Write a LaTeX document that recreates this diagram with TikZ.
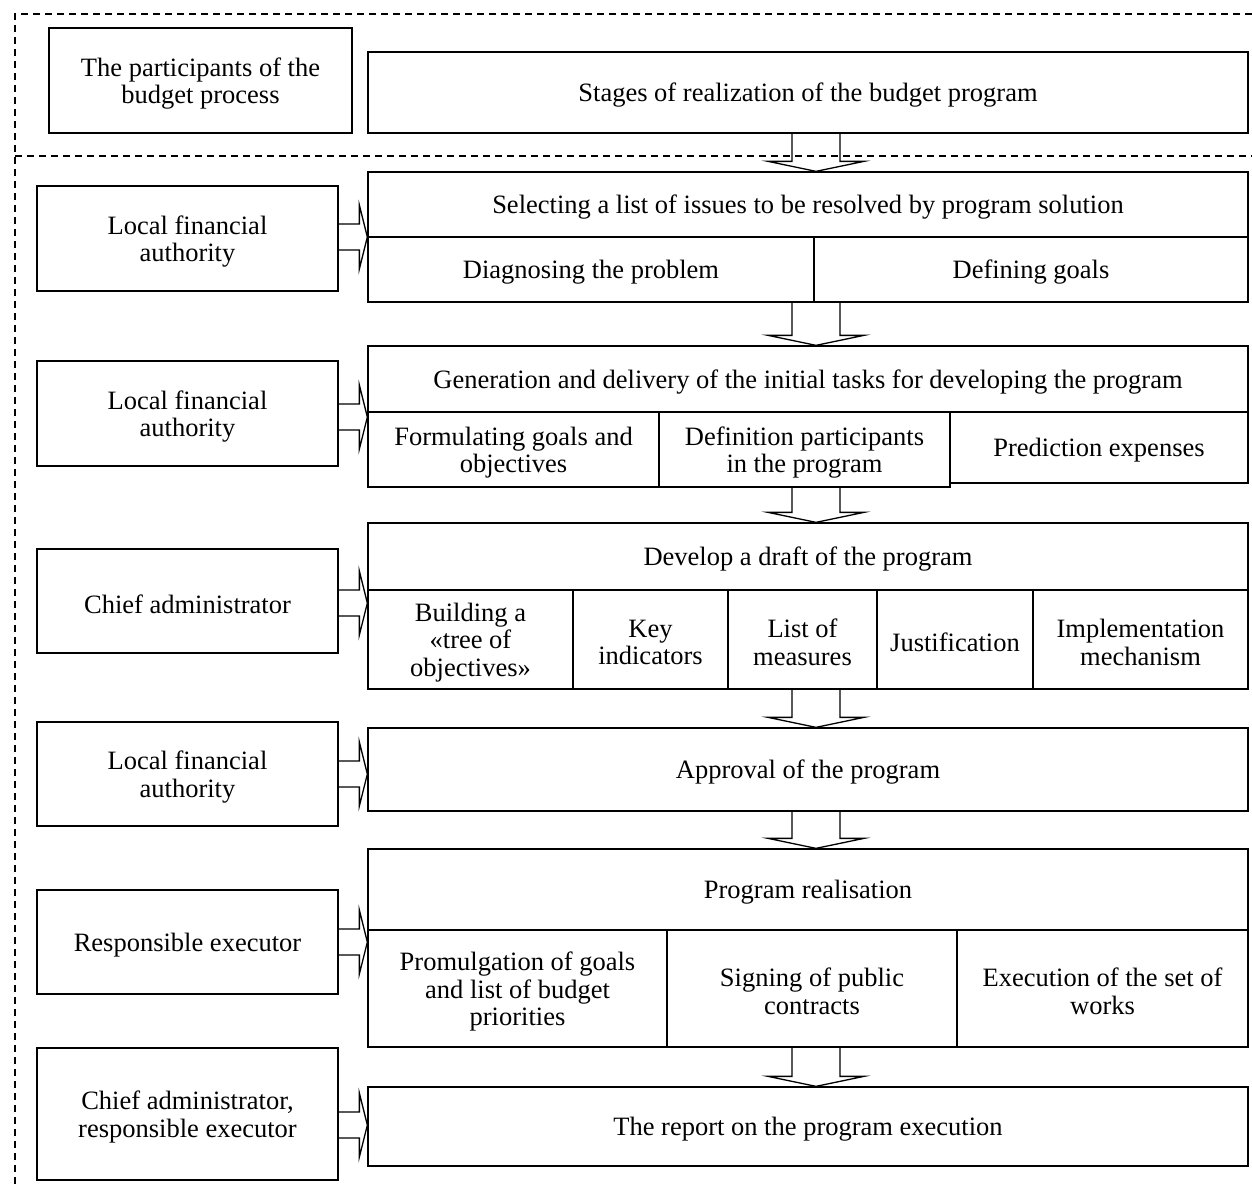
\documentclass[tikz,border=0pt]{standalone}
\usepackage{fontspec}
\setmainfont{Liberation Serif}
\usetikzlibrary{calc}
\tikzset{
  cellbox/.style={draw, line width=1.3pt, inner sep=0pt},
  celltext/.style={inner sep=0pt, align=center,
    font=\fontsize{26.5}{27.5}\selectfont},
  hollow/.style={draw, line width=1.3pt, line join=miter},
  frameline/.style={line width=1.2pt, dash pattern=on 7pt off 5pt},
}
% cell: name, x1, y1, x2, y2, text (y grows downwards)
\newcommand\cellat[6]{\node[cellbox, minimum width={(#4-#2)*1pt},
  minimum height={(#5-#3)*1pt}] (#1) at ({(#2+#4)/2},{(#3+#5)/2}) {};
  \node[celltext] (#1-t) at ($(#1.center)+(0,3)$) {#6};}
% hollow downward arrow between two stacked blocks, on the axis (ax)
\newcommand\flowdown[2]{\draw[hollow] ($(ax|-#1.south)+(-24,0)$)
  -- ($(ax|-#2.north)+(-24,-10)$) -- ++(-24,0) -- (ax|-#2.north)
  -- ++(48,-10) -- ++(-24,0) -- ($(ax|-#1.south)+(24,0)$);}
% hollow arrow from a participant to its stage, at height #3
\newcommand\flowright[3]{\draw[hollow] ($(#1.east|-#3)+(0,-13)$)
  -- ($(#2.west|-#3)+(-8,-13)$) -- ++(0,-19) -- (#2.west|-#3)
  -- ++(-8,32) -- ++(0,-19) -- ($(#1.east|-#3)+(0,13)$);}
\begin{document}
\begin{tikzpicture}[x=1pt, y=-1pt]
\useasboundingbox (0,0) rectangle (1252,1184);

% dashed frame and header separator
\draw[frameline] (1252,14) -- (15,14) -- (15,1184);
\draw[frameline] (15,156) -- (1252,156);

% header
\cellat{hpart}{49}{28}{352}{133}{The participants of the\\budget process}
\cellat{hstage}{368}{52}{1248}{133}{Stages of realization of the budget program}

% participants
\cellat{p1}{37}{186}{338}{291}{Local financial\\authority}
\cellat{p2}{37}{361}{338}{466}{Local financial\\authority}
\cellat{p3}{37}{549}{338}{653}{Chief administrator}
\cellat{p4}{37}{722}{338}{826}{Local financial\\authority}
\cellat{p5}{37}{890}{338}{994}{Responsible executor}
\cellat{p6}{37}{1048}{338}{1180}{Chief administrator,\\responsible executor}

% stages
\cellat{r1a}{368}{172}{1248}{237}{Selecting a list of issues to be resolved by program solution}
\cellat{r1b}{368}{237}{814}{302}{Diagnosing the problem}
\cellat{r1c}{814}{237}{1248}{302}{Defining goals}

\cellat{r2a}{368}{346}{1248}{412}{Generation and delivery of the initial tasks for developing the program}
\cellat{r2b}{368}{412}{659}{487}{Formulating goals and\\objectives}
\cellat{r2d}{950}{412}{1248}{483}{Prediction expenses}
\cellat{r2c}{659}{412}{950}{487}{Definition participants\\in the program}

\cellat{r3a}{368}{523}{1248}{590}{Develop a draft of the program}
\cellat{r3b}{368}{590}{573}{689}{Building a\\«tree of\\objectives»}
\cellat{r3c}{573}{590}{728}{689}{Key\\indicators}
\cellat{r3d}{728}{590}{877}{689}{List of\\measures}
\cellat{r3e}{877}{590}{1033}{689}{Justification}
\cellat{r3f}{1033}{590}{1248}{689}{Implementation\\mechanism}

\cellat{r4}{368}{728}{1248}{811}{Approval of the program}

\cellat{r5a}{368}{849}{1248}{930}{Program realisation}
\cellat{r5b}{368}{930}{667}{1047}{Promulgation of goals\\and list of budget\\priorities}
\cellat{r5c}{667}{930}{957}{1047}{Signing of public\\contracts}
\cellat{r5d}{957}{930}{1248}{1047}{Execution of the set of\\works}

\cellat{r6}{368}{1087}{1248}{1166}{The report on the program execution}

% arrow axis and arrow heights
\coordinate (ax) at (816,0);
\coordinate (hy1) at (0,237);
\coordinate (hy2) at (0,417);
\coordinate (hy3) at (0,603);
\coordinate (hy4) at (0,774);
\coordinate (hy5) at (0,942);
\coordinate (hy6) at (0,1125);

% flow between stages
\flowdown{hstage}{r1a}
\flowdown{r1b}{r2a}
\flowdown{r2c}{r3a}
\flowdown{r3d}{r4}
\flowdown{r4}{r5a}
\flowdown{r5c}{r6}

% participants to stages
\flowright{p1}{r1a}{hy1}
\flowright{p2}{r2a}{hy2}
\flowright{p3}{r3a}{hy3}
\flowright{p4}{r4}{hy4}
\flowright{p5}{r5a}{hy5}
\flowright{p6}{r6}{hy6}
\end{tikzpicture}
\end{document}
